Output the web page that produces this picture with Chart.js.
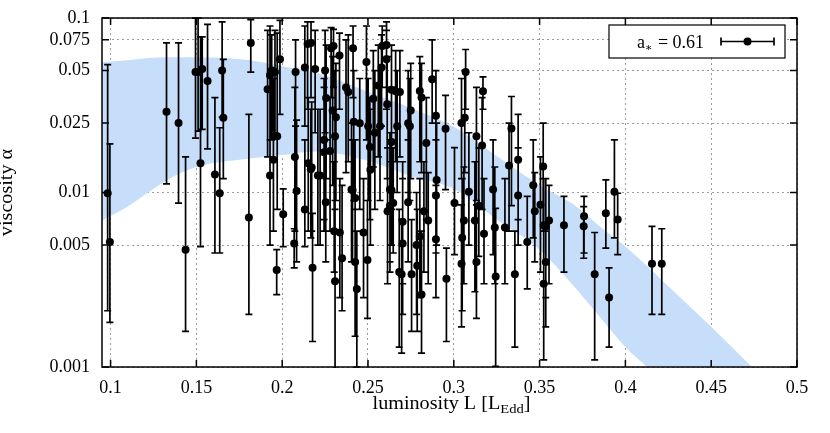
<!DOCTYPE html>
<html>
<head>
<meta charset="utf-8">
<script src="https://cdn.jsdelivr.net/npm/chart.js@4/dist/chart.umd.min.js"></script>
<style>
  html, body { margin: 0; padding: 0; background: #fff; }
</style>
</head>
<body>
<canvas id="alphaChart" width="830" height="433"></canvas>
<script>
// luminosity of each outburst point [L_Edd]
const lumL = [
  0.0983, 0.0996, 0.1326, 0.1396, 0.1437, 0.1495, 0.1510, 0.1534, 0.1524, 0.1565,
  0.1608, 0.1636, 0.1650, 0.1657, 0.1817, 0.1806, 0.1915, 0.1929, 0.1939, 0.1958,
  0.1949, 0.1929, 0.1971, 0.1987, 0.1968, 0.2006, 0.2078, 0.2074, 0.2084, 0.2070,
  0.2132, 0.2177, 0.2132, 0.2148, 0.2192, 0.2152, 0.2167, 0.2208, 0.2250, 0.2256,
  0.2285, 0.2299, 0.2334, 0.2294, 0.2313, 0.2244, 0.2244, 0.2279, 0.2308, 0.2221,
  0.2172, 0.2168, 0.2413, 0.2372, 0.2385, 0.2417, 0.2452, 0.2491, 0.2501, 0.2511,
  0.2514, 0.2404, 0.2531, 0.2540, 0.2560, 0.2570, 0.2579, 0.2583, 0.2608, 0.2608,
  0.2612, 0.2637, 0.2661, 0.2686, 0.2637, 0.2670, 0.2734, 0.2744, 0.2749, 0.2802,
  0.2812, 0.2874, 0.2840, 0.2896, 0.2952, 0.2900, 0.2628, 0.2254, 0.2303, 0.2308,
  0.2336, 0.2349, 0.2410, 0.2425, 0.2425, 0.2435, 0.2474, 0.2497, 0.2614, 0.2628,
  0.2647, 0.2637, 0.2702, 0.2702, 0.2682, 0.2696, 0.2734, 0.2754, 0.2783, 0.2802,
  0.2787, 0.2812, 0.2826, 0.2851, 0.2896, 0.2896, 0.2957, 0.3004, 0.3069, 0.3045,
  0.3064, 0.3170, 0.3132, 0.3165, 0.3088, 0.3146, 0.3123, 0.3176, 0.3049, 0.3059,
  0.3229, 0.3239, 0.3298, 0.3336, 0.3322, 0.3375, 0.3375, 0.3428, 0.3463, 0.3472,
  0.3521, 0.3505, 0.3524, 0.3536, 0.3555, 0.3524, 0.3536, 0.3642, 0.3759, 0.3757,
  0.3886, 0.3936, 0.3955, 0.3905, 0.3821, 0.3356, 0.3244, 0.3132, 0.3045, 0.4155,
  0.4212
];

// viscosity alpha, best value
const alphaVal = [
  0.0099, 0.0052, 0.029, 0.025, 0.0047, 0.049, 0.049, 0.051, 0.0147, 0.0436,
  0.0127, 0.0099, 0.050, 0.0268, 0.072, 0.0072, 0.039, 0.047, 0.050, 0.049,
  0.0154, 0.0125, 0.021, 0.058, 0.0036, 0.0075, 0.049, 0.0160, 0.0102, 0.0051,
  0.0080, 0.0037, 0.052, 0.071, 0.051, 0.0147, 0.0136, 0.0125, 0.050, 0.0348,
  0.067, 0.069, 0.061, 0.0295, 0.027, 0.020, 0.017, 0.0173, 0.021, 0.0125,
  0.0139, 0.072, 0.067, 0.040, 0.0377, 0.0254, 0.0249, 0.056, 0.024, 0.0182,
  0.0135, 0.0104, 0.0345, 0.0220, 0.041, 0.024, 0.052, 0.069, 0.070, 0.058,
  0.032, 0.0388, 0.038, 0.0377, 0.0195, 0.024, 0.0249, 0.024, 0.0295, 0.0382,
  0.035, 0.0445, 0.0192, 0.0275, 0.0232, 0.0118, 0.0104, 0.0088, 0.0060, 0.0031,
  0.0059, 0.0042, 0.0103, 0.0093, 0.0040, 0.0028, 0.0059, 0.0041, 0.0078, 0.0084,
  0.0087, 0.0103, 0.0068, 0.0051, 0.0035, 0.0034, 0.0088, 0.0034, 0.0050, 0.0056,
  0.0038, 0.0026, 0.0078, 0.0069, 0.0096, 0.0054, 0.0032, 0.0087, 0.049, 0.025,
  0.0268, 0.0381, 0.021, 0.0186, 0.0101, 0.0084, 0.0069, 0.0058, 0.0055, 0.0069,
  0.0104, 0.0063, 0.0063, 0.0233, 0.0143, 0.0154, 0.0096, 0.0052, 0.011, 0.0078,
  0.0141, 0.0085, 0.0065, 0.0064, 0.0069, 0.0030, 0.0040, 0.0065, 0.0073, 0.0064,
  0.0076, 0.0101, 0.0070, 0.0025, 0.0034, 0.0034, 0.0033, 0.0040, 0.0039, 0.0039,
  0.0039
];

// lower end of the error bar
const alphaLo = [
  0.0021, 0.0018, 0.0112, 0.0087, 0.0016, 0.0205, 0.0225, 0.023, 0.0049, 0.0178,
  0.0045, 0.0045, 0.027, 0.012, 0.049, 0.0020, 0.016, 0.020, 0.020, 0.022,
  0.006, 0.005, 0.008, 0.028, 0.0026, 0.0049, 0.024, 0.006, 0.004, 0.0037,
  0.0049, 0.0014, 0.024, 0.030, 0.022, 0.006, 0.0055, 0.005, 0.022, 0.012,
  0.035, 0.040, 0.030, 0.011, 0.009, 0.007, 0.006, 0.006, 0.008, 0.005,
  0.006, 0.035, 0.035, 0.013, 0.015, 0.009, 0.008, 0.020, 0.009, 0.007,
  0.005, 0.004, 0.014, 0.008, 0.016, 0.009, 0.024, 0.040, 0.040, 0.030,
  0.012, 0.015, 0.015, 0.016, 0.008, 0.010, 0.010, 0.009, 0.012, 0.015,
  0.013, 0.025, 0.007, 0.011, 0.0104, 0.005, 0.004, 0.004, 0.0035, 0.00098,
  0.0025, 0.0021, 0.004, 0.004, 0.0015, 0.0010, 0.0025, 0.0019, 0.003, 0.0035,
  0.0045, 0.005, 0.003, 0.002, 0.0013, 0.0012, 0.004, 0.0016, 0.002, 0.0025,
  0.0016, 0.0012, 0.0035, 0.003, 0.0045, 0.0025, 0.0014, 0.0044, 0.030, 0.012,
  0.013, 0.030, 0.009, 0.008, 0.005, 0.0043, 0.0027, 0.003, 0.0021, 0.003,
  0.0044, 0.0030, 0.003, 0.0084, 0.006, 0.007, 0.005, 0.0028, 0.0055, 0.004,
  0.006, 0.0035, 0.003, 0.0025, 0.003, 0.0011, 0.0017, 0.0035, 0.0045, 0.0042,
  0.0048, 0.0055, 0.0044, 0.0013, 0.0011, 0.0013, 0.00101, 0.0019, 0.0017, 0.0020,
  0.0020
];

// upper end of the error bar
const alphaHi = [
  0.054, 0.019, 0.072, 0.072, 0.016, 0.1, 0.1, 0.078, 0.078, 0.092,
  0.035, 0.0235, 0.095, 0.058, 0.098, 0.028, 0.085, 0.090, 0.080, 0.085,
  0.045, 0.040, 0.082, 0.097, 0.0047, 0.0105, 0.075, 0.040, 0.026, 0.0062,
  0.020, 0.0076, 0.090, 0.095, 0.085, 0.035, 0.030, 0.030, 0.085, 0.070,
  0.088, 0.086, 0.082, 0.060, 0.055, 0.045, 0.040, 0.035, 0.050, 0.030,
  0.033, 0.095, 0.090, 0.075, 0.080, 0.050, 0.045, 0.090, 0.045, 0.035,
  0.030, 0.025, 0.065, 0.050, 0.070, 0.050, 0.080, 0.090, 0.095, 0.085,
  0.060, 0.070, 0.065, 0.065, 0.040, 0.050, 0.050, 0.045, 0.055, 0.060,
  0.055, 0.075, 0.035, 0.050, 0.036, 0.025, 0.022, 0.020, 0.015, 0.009,
  0.012, 0.011, 0.020, 0.020, 0.008, 0.006, 0.012, 0.009, 0.018, 0.020,
  0.018, 0.022, 0.015, 0.012, 0.008, 0.007, 0.020, 0.007, 0.010, 0.012,
  0.008, 0.006, 0.015, 0.013, 0.020, 0.011, 0.0048, 0.0181, 0.066, 0.045,
  0.050, 0.046, 0.040, 0.035, 0.022, 0.018, 0.015, 0.012, 0.012, 0.014,
  0.020, 0.014, 0.012, 0.0355, 0.025, 0.028, 0.018, 0.0095, 0.020, 0.013,
  0.025, 0.016, 0.012, 0.012, 0.011, 0.006, 0.006, 0.0095, 0.0095, 0.0083,
  0.0118, 0.020, 0.0099, 0.0037, 0.0059, 0.0060, 0.0081, 0.0085, 0.0085, 0.0064,
  0.0062
];

// model band for a* = 0.61
const bandL     = [0.095, 0.11, 0.12, 0.135, 0.15, 0.18, 0.2, 0.22, 0.25, 0.275, 0.3, 0.325, 0.35, 0.37, 0.385, 0.4, 0.4125, 0.425, 0.45, 0.4737];
const bandUpper = [0.0558, 0.0572, 0.0588, 0.0595, 0.0596, 0.0575, 0.0529, 0.0485, 0.0378, 0.0305, 0.0238, 0.0162, 0.0110, 0.0085, 0.0064, 0.0049, 0.0038, 0.0029, 0.0017, 0.001];
const bandLower = [0.0069, 0.0083, 0.0097, 0.0121, 0.0140, 0.0156, 0.0164, 0.0172, 0.0152, 0.0124, 0.0105, 0.0070, 0.0047, 0.0029, 0.00194, 0.0013, 0.001, 0.00078, 0.0005, 0.00033];

// axis ticks
const xTickValues = [0.1, 0.15, 0.2, 0.25, 0.3, 0.35, 0.4, 0.45, 0.5];
const xTickLabels = ['0.1', '0.15', '0.2', '0.25', '0.3', '0.35', '0.4', '0.45', '0.5'];
const yTickValues = [0.001, 0.005, 0.01, 0.025, 0.05, 0.075, 0.1];
const yTickLabels = ['0.001', '0.005', '0.01', '0.025', '0.05', '0.075', '0.1'];

const SERIF = '"Liberation Serif", "DejaVu Serif", serif';
const BAND_COLOR = 'rgb(198, 222, 250)';

// draws error bars, the plot frame with inward ticks, the legend and axis titles
const gnuplotLook = {
  id: 'gnuplotLook',
  beforeDatasetDraw(chart, args) {
    if (args.index !== 0) return;
    const { ctx, chartArea: a, scales: { x, y } } = chart;
    ctx.save();
    ctx.beginPath();
    ctx.rect(a.left, a.top - 1, a.right - a.left, a.bottom - a.top + 2);
    ctx.clip();
    ctx.strokeStyle = '#000';
    ctx.lineWidth = 1.7;
    ctx.beginPath();
    lumL.forEach((v, i) => {
      const px = x.getPixelForValue(v);
      const lo = y.getPixelForValue(alphaLo[i]);
      const hi = y.getPixelForValue(alphaHi[i]);
      ctx.moveTo(px, lo); ctx.lineTo(px, hi);
      ctx.moveTo(px - 3.5, lo); ctx.lineTo(px + 3.5, lo);
      ctx.moveTo(px - 3.5, hi); ctx.lineTo(px + 3.5, hi);
    });
    ctx.stroke();
    ctx.restore();
  },
  afterDraw(chart) {
    const { ctx, chartArea: a, scales: { x, y } } = chart;
    ctx.save();
    ctx.strokeStyle = '#000';
    ctx.lineWidth = 1.5;

    // inward tick marks on all four sides
    ctx.beginPath();
    xTickValues.forEach(v => {
      const px = x.getPixelForValue(v);
      ctx.moveTo(px, a.bottom); ctx.lineTo(px, a.bottom - 7);
      ctx.moveTo(px, a.top); ctx.lineTo(px, a.top + 7);
    });
    yTickValues.forEach(v => {
      const py = y.getPixelForValue(v);
      ctx.moveTo(a.left, py); ctx.lineTo(a.left + 7, py);
      ctx.moveTo(a.right, py); ctx.lineTo(a.right - 7, py);
    });
    ctx.stroke();
    ctx.strokeRect(a.left, a.top, a.right - a.left, a.bottom - a.top);

    // legend box
    const bw = 176, bh = 33;
    const bx = a.right - 12 - bw, by = a.top + 7;
    ctx.fillStyle = '#fff';
    ctx.fillRect(bx, by, bw, bh);
    ctx.lineWidth = 1.2;
    ctx.strokeRect(bx, by, bw, bh);
    const ty = by + bh / 2 + 6;
    ctx.fillStyle = '#000';
    ctx.textBaseline = 'alphabetic';
    ctx.textAlign = 'left';
    ctx.font = '18px ' + SERIF;
    let tx = bx + 28;
    ctx.fillText('a', tx, ty);
    tx += ctx.measureText('a').width;
    ctx.font = '11px ' + SERIF;
    ctx.fillText('∗', tx, ty + 3);
    tx += ctx.measureText('∗').width + 1;
    ctx.font = '18px ' + SERIF;
    ctx.fillText(' = 0.61', tx, ty);
    // legend symbol: horizontal error bar with a dot
    const sx0 = bx + 112, sx1 = bx + 165, sy = by + bh / 2;
    ctx.lineWidth = 1.7;
    ctx.beginPath();
    ctx.moveTo(sx0, sy); ctx.lineTo(sx1, sy);
    ctx.moveTo(sx0, sy - 4); ctx.lineTo(sx0, sy + 4);
    ctx.moveTo(sx1, sy - 4); ctx.lineTo(sx1, sy + 4);
    ctx.stroke();
    ctx.beginPath();
    ctx.arc((sx0 + sx1) / 2, sy, 4, 0, Math.PI * 2);
    ctx.fill();

    // x axis title with subscript
    const main = '18px ' + SERIF, sub = '13px ' + SERIF;
    ctx.font = main;
    const p1 = 'luminosity L [L', p3 = ']';
    const w1 = ctx.measureText(p1).width, w3 = ctx.measureText(p3).width;
    ctx.font = sub;
    const w2 = ctx.measureText('Edd').width;
    const stretch = 1.12;
    const total = (w1 + w2 + w3) * stretch;
    const xc = (a.left + a.right) / 2 + 2;
    ctx.save();
    ctx.translate(xc - total / 2, a.bottom + 42);
    ctx.scale(stretch, 1);
    ctx.font = main;
    ctx.fillText(p1, 0, 0);
    ctx.font = sub;
    ctx.fillText('Edd', w1, 4);
    ctx.font = main;
    ctx.fillText(p3, w1 + w2, 0);
    ctx.restore();

    // y axis title, rotated
    ctx.save();
    ctx.translate(a.left - 90, (a.top + a.bottom) / 2);
    ctx.rotate(-Math.PI / 2);
    ctx.scale(stretch, 1);
    ctx.font = main;
    ctx.textAlign = 'center';
    ctx.fillText('viscosity α', 0, 0);
    ctx.restore();

    ctx.restore();
  }
};

function createChart() {
  const ctx = document.getElementById('alphaChart').getContext('2d');
  const points = lumL.map((v, i) => ({ x: v, y: alphaVal[i] }));
  const upper = bandL.map((v, i) => ({ x: v, y: bandUpper[i] }));
  const lower = bandL.map((v, i) => ({ x: v, y: bandLower[i] }));

  new Chart(ctx, {
    type: 'scatter',
    data: {
      datasets: [
        {
          label: 'a* = 0.61',
          data: points,
          pointRadius: 4,
          pointHoverRadius: 4,
          backgroundColor: '#000',
          borderColor: '#000',
          borderWidth: 0,
          order: 0
        },
        {
          type: 'line',
          label: 'band upper',
          data: upper,
          showLine: true,
          borderWidth: 0,
          borderColor: BAND_COLOR,
          backgroundColor: BAND_COLOR,
          pointRadius: 0,
          cubicInterpolationMode: 'monotone',
          fill: '+1',
          order: 2
        },
        {
          type: 'line',
          label: 'band lower',
          data: lower,
          showLine: true,
          borderWidth: 0,
          borderColor: BAND_COLOR,
          pointRadius: 0,
          cubicInterpolationMode: 'monotone',
          fill: false,
          order: 3
        }
      ]
    },
    options: {
      responsive: false,
      animation: false,
      layout: { padding: { left: 0, right: 33, top: 18, bottom: 0 } },
      plugins: {
        legend: { display: false },
        tooltip: { enabled: false }
      },
      scales: {
        x: {
          type: 'linear',
          min: 0.095,
          max: 0.5,
          afterBuildTicks: scale => { scale.ticks = xTickValues.map(v => ({ value: v })); },
          afterFit: scale => { scale.height = 66; },
          grid: { color: '#9a9a9a', lineWidth: 1, drawTicks: false },
          border: { display: false, dash: [2, 3] },
          ticks: {
            padding: 10,
            color: '#000',
            font: { family: SERIF, size: 18 },
            maxRotation: 0,
            callback: value => {
              const i = xTickValues.findIndex(t => Math.abs(t - value) < 1e-9);
              return i >= 0 ? xTickLabels[i] : '';
            }
          }
        },
        y: {
          type: 'logarithmic',
          min: 0.001,
          max: 0.1,
          afterBuildTicks: scale => { scale.ticks = yTickValues.map(v => ({ value: v })); },
          afterFit: scale => { scale.width = 102; },
          grid: { color: '#9a9a9a', lineWidth: 1, drawTicks: false },
          border: { display: false, dash: [2, 3] },
          ticks: {
            padding: 12,
            color: '#000',
            font: { family: SERIF, size: 18, lineHeight: 0.6 },
            callback: value => {
              const i = yTickValues.findIndex(t => Math.abs(t - value) < 1e-9);
              return i >= 0 ? yTickLabels[i] : '';
            }
          }
        }
      }
    },
    plugins: [gnuplotLook]
  });
}

window.onload = createChart;
</script>
</body>
</html>
